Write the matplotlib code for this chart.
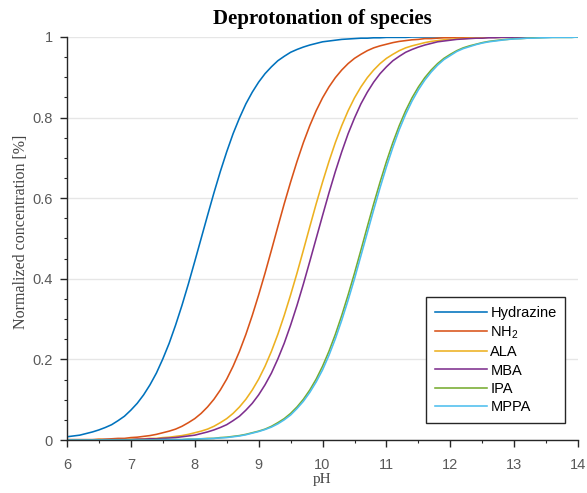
"""
Deprotonation curves of the amine species vs pH.
"""

import matplotlib
matplotlib.use("Agg")
import matplotlib.pyplot as plt
from matplotlib.ticker import MultipleLocator

# pH grid (step 0.1)
ph = [6.0, 6.1, 6.2, 6.3, 6.4, 6.5, 6.6, 6.7, 6.8, 6.9,
      7.0, 7.1, 7.2, 7.3, 7.4, 7.5, 7.6, 7.7, 7.8, 7.9,
      8.0, 8.1, 8.2, 8.3, 8.4, 8.5, 8.6, 8.7, 8.8, 8.9,
      9.0, 9.1, 9.2, 9.3, 9.4, 9.5, 9.6, 9.7, 9.8, 9.9,
      10.0, 10.1, 10.2, 10.3, 10.4, 10.5, 10.6, 10.7, 10.8, 10.9,
      11.0, 11.1, 11.2, 11.3, 11.4, 11.5, 11.6, 11.7, 11.8, 11.9,
      12.0, 12.1, 12.2, 12.3, 12.4, 12.5, 12.6, 12.7, 12.8, 12.9,
      13.0, 13.1, 13.2, 13.3, 13.4, 13.5, 13.6, 13.7, 13.8, 13.9,
      14.0]

# normalized concentration of the deprotonated form
hydrazine = [0.008, 0.010, 0.012, 0.016, 0.020, 0.025, 0.031, 0.038, 0.048, 0.059,
             0.074, 0.091, 0.112, 0.137, 0.166, 0.201, 0.240, 0.285, 0.334, 0.387,
             0.443, 0.500, 0.557, 0.613, 0.666, 0.715, 0.760, 0.799, 0.834, 0.863,
             0.888, 0.909, 0.926, 0.941, 0.952, 0.962, 0.969, 0.975, 0.980, 0.984,
             0.988, 0.990, 0.992, 0.994, 0.995, 0.996, 0.997, 0.997, 0.998, 0.998,
             0.999, 0.999, 0.999, 0.999, 1.0, 1.0, 1.0, 1.0, 1.0, 1.0,
             1.0, 1.0, 1.0, 1.0, 1.0, 1.0, 1.0, 1.0, 1.0, 1.0,
             1.0, 1.0, 1.0, 1.0, 1.0, 1.0, 1.0, 1.0, 1.0, 1.0,
             1.0]
nh2 = [0.001, 0.001, 0.001, 0.001, 0.001, 0.002, 0.002, 0.003, 0.004, 0.004,
       0.006, 0.007, 0.009, 0.011, 0.014, 0.018, 0.022, 0.027, 0.034, 0.043,
       0.053, 0.066, 0.082, 0.101, 0.124, 0.151, 0.183, 0.220, 0.262, 0.309,
       0.360, 0.414, 0.471, 0.529, 0.586, 0.640, 0.691, 0.738, 0.780, 0.817,
       0.849, 0.876, 0.899, 0.918, 0.934, 0.947, 0.957, 0.966, 0.973, 0.978,
       0.982, 0.986, 0.989, 0.991, 0.993, 0.994, 0.996, 0.996, 0.997, 0.998,
       0.998, 0.999, 0.999, 0.999, 0.999, 0.999, 1.0, 1.0, 1.0, 1.0,
       1.0, 1.0, 1.0, 1.0, 1.0, 1.0, 1.0, 1.0, 1.0, 1.0,
       1.0]
ala = [0.000, 0.000, 0.000, 0.000, 0.000, 0.001, 0.001, 0.001, 0.001, 0.001,
       0.002, 0.002, 0.003, 0.004, 0.004, 0.006, 0.007, 0.009, 0.011, 0.014,
       0.018, 0.022, 0.027, 0.034, 0.043, 0.053, 0.066, 0.082, 0.101, 0.124,
       0.151, 0.183, 0.220, 0.262, 0.309, 0.360, 0.414, 0.471, 0.529, 0.586,
       0.640, 0.691, 0.738, 0.780, 0.817, 0.849, 0.876, 0.899, 0.918, 0.934,
       0.947, 0.957, 0.966, 0.973, 0.978, 0.982, 0.986, 0.989, 0.991, 0.993,
       0.994, 0.996, 0.996, 0.997, 0.998, 0.998, 0.999, 0.999, 0.999, 0.999,
       0.999, 1.0, 1.0, 1.0, 1.0, 1.0, 1.0, 1.0, 1.0, 1.0,
       1.0]
mba = [0.000, 0.000, 0.000, 0.000, 0.000, 0.000, 0.001, 0.001, 0.001, 0.001,
       0.001, 0.002, 0.002, 0.003, 0.003, 0.004, 0.005, 0.006, 0.008, 0.010,
       0.012, 0.016, 0.020, 0.025, 0.031, 0.038, 0.048, 0.059, 0.074, 0.091,
       0.112, 0.137, 0.166, 0.201, 0.240, 0.285, 0.334, 0.387, 0.443, 0.500,
       0.557, 0.613, 0.666, 0.715, 0.760, 0.799, 0.834, 0.863, 0.888, 0.909,
       0.926, 0.941, 0.952, 0.962, 0.969, 0.975, 0.980, 0.984, 0.988, 0.990,
       0.992, 0.994, 0.995, 0.996, 0.997, 0.997, 0.998, 0.998, 0.999, 0.999,
       0.999, 0.999, 1.0, 1.0, 1.0, 1.0, 1.0, 1.0, 1.0, 1.0,
       1.0]
ipa = [0.000, 0.000, 0.000, 0.000, 0.000, 0.000, 0.000, 0.000, 0.000, 0.000,
       0.000, 0.000, 0.000, 0.000, 0.001, 0.001, 0.001, 0.001, 0.001, 0.002,
       0.002, 0.003, 0.004, 0.004, 0.006, 0.007, 0.009, 0.011, 0.014, 0.018,
       0.022, 0.027, 0.034, 0.043, 0.053, 0.066, 0.082, 0.101, 0.124, 0.151,
       0.183, 0.220, 0.262, 0.309, 0.360, 0.414, 0.471, 0.529, 0.586, 0.640,
       0.691, 0.738, 0.780, 0.817, 0.849, 0.876, 0.899, 0.918, 0.934, 0.947,
       0.957, 0.966, 0.973, 0.978, 0.982, 0.986, 0.989, 0.991, 0.993, 0.994,
       0.996, 0.996, 0.997, 0.998, 0.998, 0.999, 0.999, 0.999, 0.999, 0.999,
       1.0]
mppa = [0.000, 0.000, 0.000, 0.000, 0.000, 0.000, 0.000, 0.000, 0.000, 0.000,
        0.000, 0.000, 0.000, 0.000, 0.000, 0.001, 0.001, 0.001, 0.001, 0.002,
        0.002, 0.003, 0.003, 0.004, 0.005, 0.006, 0.008, 0.010, 0.013, 0.017,
        0.021, 0.026, 0.032, 0.040, 0.050, 0.062, 0.078, 0.096, 0.118, 0.144,
        0.174, 0.210, 0.251, 0.297, 0.347, 0.400, 0.457, 0.514, 0.571, 0.626,
        0.678, 0.726, 0.770, 0.808, 0.841, 0.869, 0.893, 0.913, 0.930, 0.944,
        0.954, 0.964, 0.971, 0.976, 0.981, 0.985, 0.988, 0.990, 0.992, 0.994,
        0.995, 0.996, 0.997, 0.997, 0.998, 0.998, 0.999, 0.999, 0.999, 0.999,
        1.0]

labels = ["Hydrazine", "NH$_2$", "ALA", "MBA", "IPA", "MPPA"]
colors = ["#0072BD", "#D95319", "#EDB120", "#7E2F8E", "#77AC30", "#4DBEEE"]

x_ticks = [6, 7, 8, 9, 10, 11, 12, 13, 14]
y_ticks = [0, 0.2, 0.4, 0.6, 0.8, 1]
y_tick_labels = ["0", "0.2", "0.4", "0.6", "0.8", "1"]


def plot_deprotonation(output_path="out.png"):
    plt.rcParams["font.family"] = ["Liberation Sans", "DejaVu Sans"]
    plt.rcParams["mathtext.default"] = "regular"

    fig = plt.figure(figsize=(5.87, 4.93), dpi=100)
    ax = fig.add_axes([0.114, 0.1075, 0.871, 0.8175])

    series = [hydrazine, nh2, ala, mba, ipa, mppa]
    for values, label, color in zip(series, labels, colors):
        ax.plot(ph, values, color=color, lw=1.15, label=label)

    ax.set_xlim(6, 14)
    ax.set_ylim(0, 1)
    ax.set_xticks(x_ticks)
    ax.set_yticks(y_ticks)
    ax.set_yticklabels(y_tick_labels)
    ax.xaxis.set_minor_locator(MultipleLocator(0.5))
    ax.yaxis.set_minor_locator(MultipleLocator(0.05))

    # MATLAB-ish look: box off, ticks out, light horizontal grid
    ax.spines["top"].set_visible(False)
    ax.spines["right"].set_visible(False)
    for side in ["left", "bottom"]:
        ax.spines[side].set_color("#262626")
        ax.spines[side].set_linewidth(1.0)
    ax.tick_params(which="major", direction="out", length=5, width=1.0,
                   color="#262626", labelsize=10.5, labelcolor="#5a5a5a")
    ax.tick_params(axis="x", which="major", pad=8)
    ax.tick_params(axis="y", which="major", pad=5)
    ax.tick_params(which="minor", direction="out", length=2.5, width=0.8,
                   color="#262626")
    ax.yaxis.grid(True, color="#e6e6e6", lw=1.0)
    ax.set_axisbelow(True)

    serif = ["Liberation Serif", "DejaVu Serif"]
    ax.set_title("Deprotonation of species", family=serif, fontsize=15,
                 fontweight="bold", pad=9)
    ax.set_xlabel("pH", family=serif, fontsize=11, color="#444444", labelpad=1)
    ax.set_ylabel("Normalized concentration [%]", family=serif, fontsize=11.5,
                  color="#444444")
    ax.yaxis.set_label_coords(-0.075, 0.516)

    leg = ax.legend(loc="lower right", bbox_to_anchor=(0.975, 0.042),
                    borderaxespad=0, fancybox=False, fontsize=10.5,
                    handlelength=3.6, handletextpad=0.2, labelspacing=0.3,
                    borderpad=0.6)
    leg.get_frame().set_edgecolor("#262626")
    leg.get_frame().set_linewidth(1.0)
    leg.get_frame().set_alpha(1)

    fig.savefig(output_path, dpi=100)


if __name__ == "__main__":
    plot_deprotonation()
